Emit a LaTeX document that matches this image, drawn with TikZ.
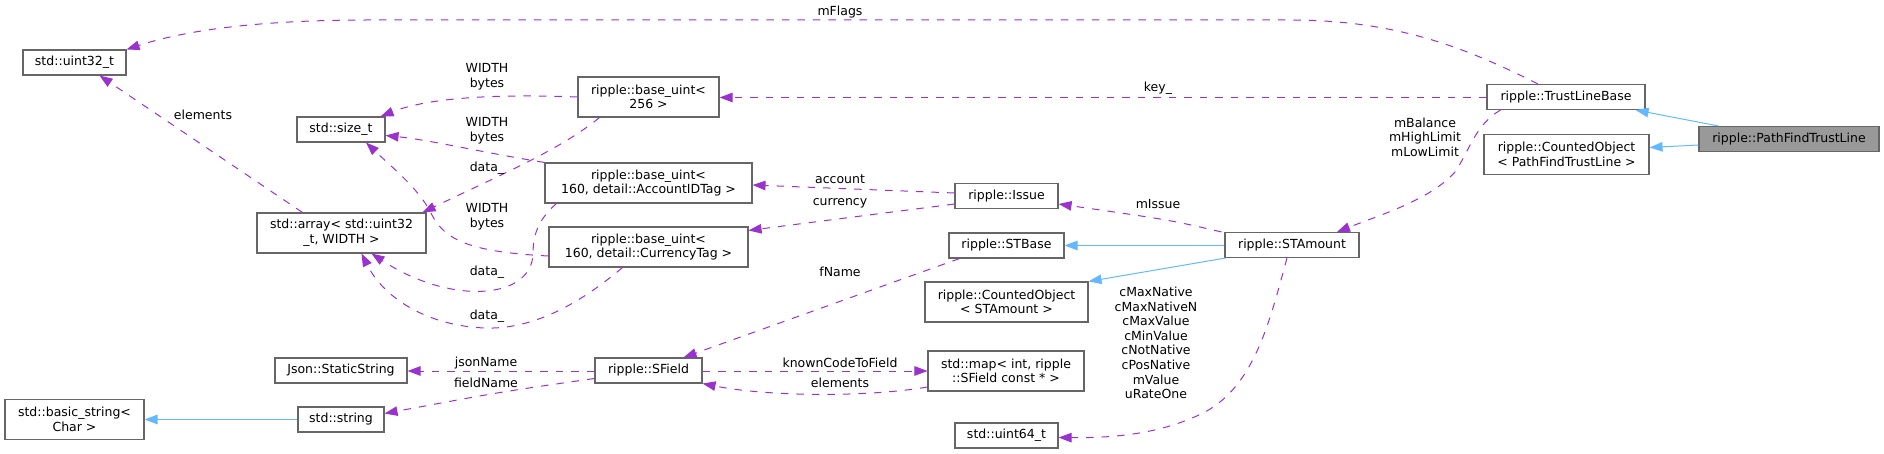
\documentclass[tikz,border=0pt]{standalone}
\usepackage{fontspec}
\setmainfont{DejaVu Sans}
\usetikzlibrary{arrows.meta,calc}
\definecolor{edgepurple}{HTML}{9A32CD}
\definecolor{edgeblue}{HTML}{63B8FF}
\definecolor{boxgray}{HTML}{666666}
\definecolor{fillgray}{HTML}{999999}
\begin{document}
\begin{tikzpicture}[x=1pt,y=-1pt,
  every node/.style={font=\fontsize{12.5pt}{14.6pt}\selectfont},
  box/.style={draw=boxgray, line width=1.1pt, fill=white, inner sep=0pt, align=center},
  lbl/.style={inner sep=0pt, align=center},
  usage/.style={draw=edgepurple, line width=1pt, dash pattern=on 7.5pt off 8pt,
    -{Triangle[length=13pt,width=9.5pt,fill=edgepurple]}},
  inherit/.style={draw=edgeblue, line width=1pt, -{Triangle[length=13pt,width=9.5pt,fill=edgeblue]}}
]
\useasboundingbox (0,0) rectangle (1884,454);

% nodes
\node[box, minimum width=103pt, minimum height=25pt] (uint32) at (74.5,62.5) {std::uint32\_t};
\node[box, minimum width=88pt, minimum height=25pt] (sizet) at (341,129.5) {std::size\_t};
\node[box, minimum width=141pt, minimum height=40pt] (bu256) at (648.5,97) {ripple::base\_uint<\\ 256 >};
\node[box, minimum width=207pt, minimum height=40pt] (buAcc) at (648.5,183) {ripple::base\_uint<\\ 160, detail::AccountIDTag >};
\node[box, minimum width=199pt, minimum height=40pt] (buCur) at (648.5,247) {ripple::base\_uint<\\ 160, detail::CurrencyTag >};
\node[box, minimum width=169pt, minimum height=40pt] (array) at (341.5,233) {std::array< std::uint32\\ \_t, WIDTH >};
\node[box, minimum width=132pt, minimum height=25pt] (json) at (341,370.5) {Json::StaticString};
\node[box, minimum width=107pt, minimum height=25pt] (sfield) at (648.5,370.5) {ripple::SField};
\node[box, minimum width=139pt, minimum height=40pt] (basicstr) at (74.5,419.5) {std::basic\_string<\\ Char >};
\node[box, minimum width=86pt, minimum height=25pt] (stdstr) at (341,419.5) {std::string};
\node[box, minimum width=103pt, minimum height=25pt] (issue) at (1006.5,196) {ripple::Issue};
\node[box, minimum width=115pt, minimum height=25pt] (stbase) at (1006.5,245.5) {ripple::STBase};
\node[box, minimum width=163pt, minimum height=40pt] (coSTA) at (1006.5,302) {ripple::CountedObject\\ < STAmount >};
\node[box, minimum width=156pt, minimum height=40pt] (map) at (1006,371) {std::map< int, ripple\\ ::SField const * >};
\node[box, minimum width=103pt, minimum height=25pt] (uint64) at (1006.5,435.5) {std::uint64\_t};
\node[box, minimum width=134pt, minimum height=25pt] (stamount) at (1292,245) {ripple::STAmount};
\node[box, minimum width=158pt, minimum height=25pt] (tlb) at (1566,97) {ripple::TrustLineBase};
\node[box, minimum width=165pt, minimum height=40pt] (coPF) at (1566.5,154.5) {ripple::CountedObject\\ < PathFindTrustLine >};
\node[box, fill=fillgray, minimum width=180pt, minimum height=25pt] (pftl) at (1789,139) {ripple::PathFindTrustLine};

% inheritance edges
\draw[inherit] ($(pftl.north west)+(20,0)$) -- ($(tlb.south east)+(-10,0)$);
\draw[inherit] ($(pftl.west)+(0,6)$) -- ($(coPF.east)+(0,-7)$);
\draw[inherit] ($(stamount.west)+(0,0.5)$) -- ($(stbase.east)+(0,0)$);
\draw[inherit] ($(stamount.south west)+(1,0)$) -- (coSTA.north east);
\draw[inherit] (stdstr.west) -- (basicstr.east);

% usage edges
\draw[usage] ($(tlb.north)+(-28,0)$) .. controls (1470,50) and (1400,20) .. (1290,20) -- (368,20) .. controls (250,20) and (180,32) .. (uint32.north east);
\draw[usage] ($(tlb.west)+(0,0.5)$) -- ($(bu256.east)+(0,0.5)$);
\draw[usage] ($(tlb.south west)+(14,0)$) .. controls (1475,125) and (1470,150) .. (1455,172) .. controls (1430,200) and (1380,215) .. ($(stamount.north)+(45,0)$);
\draw[usage] (bu256.west) .. controls (500,94) and (430,97) .. ($(sizet.north east)+(-5,0)$);
\draw[usage] ($(bu256.south west)+(22,0)$) .. controls (560,150) and (500,175) .. ($(array.north east)+(-4,0)$);
\draw[usage] (buAcc.north west) .. controls (480,152) and (430,140) .. ($(sizet.east)+(0,6)$);
\draw[usage] ($(buAcc.south west)+(12,0)$) .. controls (535,222) and (533,240) .. (533,255) .. controls (530,300) and (450,305) .. ($(array.south)+(30,0)$);
\draw[usage] ($(buCur.west)+(0,9)$) .. controls (470,252) and (445,240) .. (432,215) .. controls (420,190) and (395,170) .. ($(sizet.south)+(25,0)$);
\draw[usage] ($(buCur.south west)+(74,0)$) .. controls (590,295) and (540,330) .. (485,328) .. controls (430,326) and (385,300) .. ($(array.south)+(20,0)$);
\draw[usage] ($(array.north west)+(46,0)$) -- ($(uint32.south)+(25,0)$);
\draw[usage] ($(issue.west)+(0,-3)$) -- ($(buAcc.east)+(0,2)$);
\draw[usage] ($(issue.west)+(0,8)$) -- ($(buCur.north east)+(0,4)$);
\draw[usage] ($(stamount.north west)+(-3,0)$) .. controls (1170,220) .. ($(issue.east)+(0,8)$);
\draw[usage] ($(stamount.south)+(-5,0)$) .. controls (1270,320) and (1255,385) .. (1205,412) .. controls (1160,435) and (1110,438) .. ($(uint64.east)+(0,2)$);
\draw[usage] ($(stbase.south west)+(11,0)$) -- ($(sfield.north east)+(-19,0)$);
\draw[usage] ($(sfield.west)+(0,0.5)$) -- ($(json.east)+(0,0.5)$);
\draw[usage] ($(sfield.west)+(0,8)$) .. controls (500,392) .. ($(stdstr.east)+(0,-6)$);
\draw[usage] ($(sfield.east)+(0,0.5)$) -- ($(map.west)+(0,0)$);
\draw[usage] ($(map.west)+(0,16)$) .. controls (870,397) and (770,397) .. (sfield.south east);

% labels
\node[lbl] (lmflags) at (840,12) {mFlags};
\node[lbl] (lkey) at (1158,88) {key\_};
\node[lbl] (lbal) at (1425,137) {mBalance\\mHighLimit\\mLowLimit};
\node[lbl] (lw1) at (487,77) {WIDTH\\bytes};
\node[lbl] (lw2) at (487,131) {WIDTH\\bytes};
\node[lbl] (lw3) at (487,217) {WIDTH\\bytes};
\node[lbl] (ld1) at (487,168) {data\_};
\node[lbl] (ld2) at (487,272) {data\_};
\node[lbl] (ld3) at (487,316) {data\_};
\node[lbl] (lelem1) at (203,115) {elements};
\node[lbl] (lacc) at (840,179) {account};
\node[lbl] (lcur) at (840,203) {currency};
\node[lbl] (lissue) at (1158,204) {mIssue};
\node[lbl] (lfname) at (840,272) {fName};
\node[lbl] (ljson) at (486,363) {jsonName};
\node[lbl] (lfield) at (486,383) {fieldName};
\node[lbl] (lknown) at (840,363) {knownCodeToField};
\node[lbl] (lelem2) at (840,383) {elements};
\node[lbl] (lconst) at (1156,343) {cMaxNative\\cMaxNativeN\\cMaxValue\\cMinValue\\cNotNative\\cPosNative\\mValue\\uRateOne};
\end{tikzpicture}
\end{document}
